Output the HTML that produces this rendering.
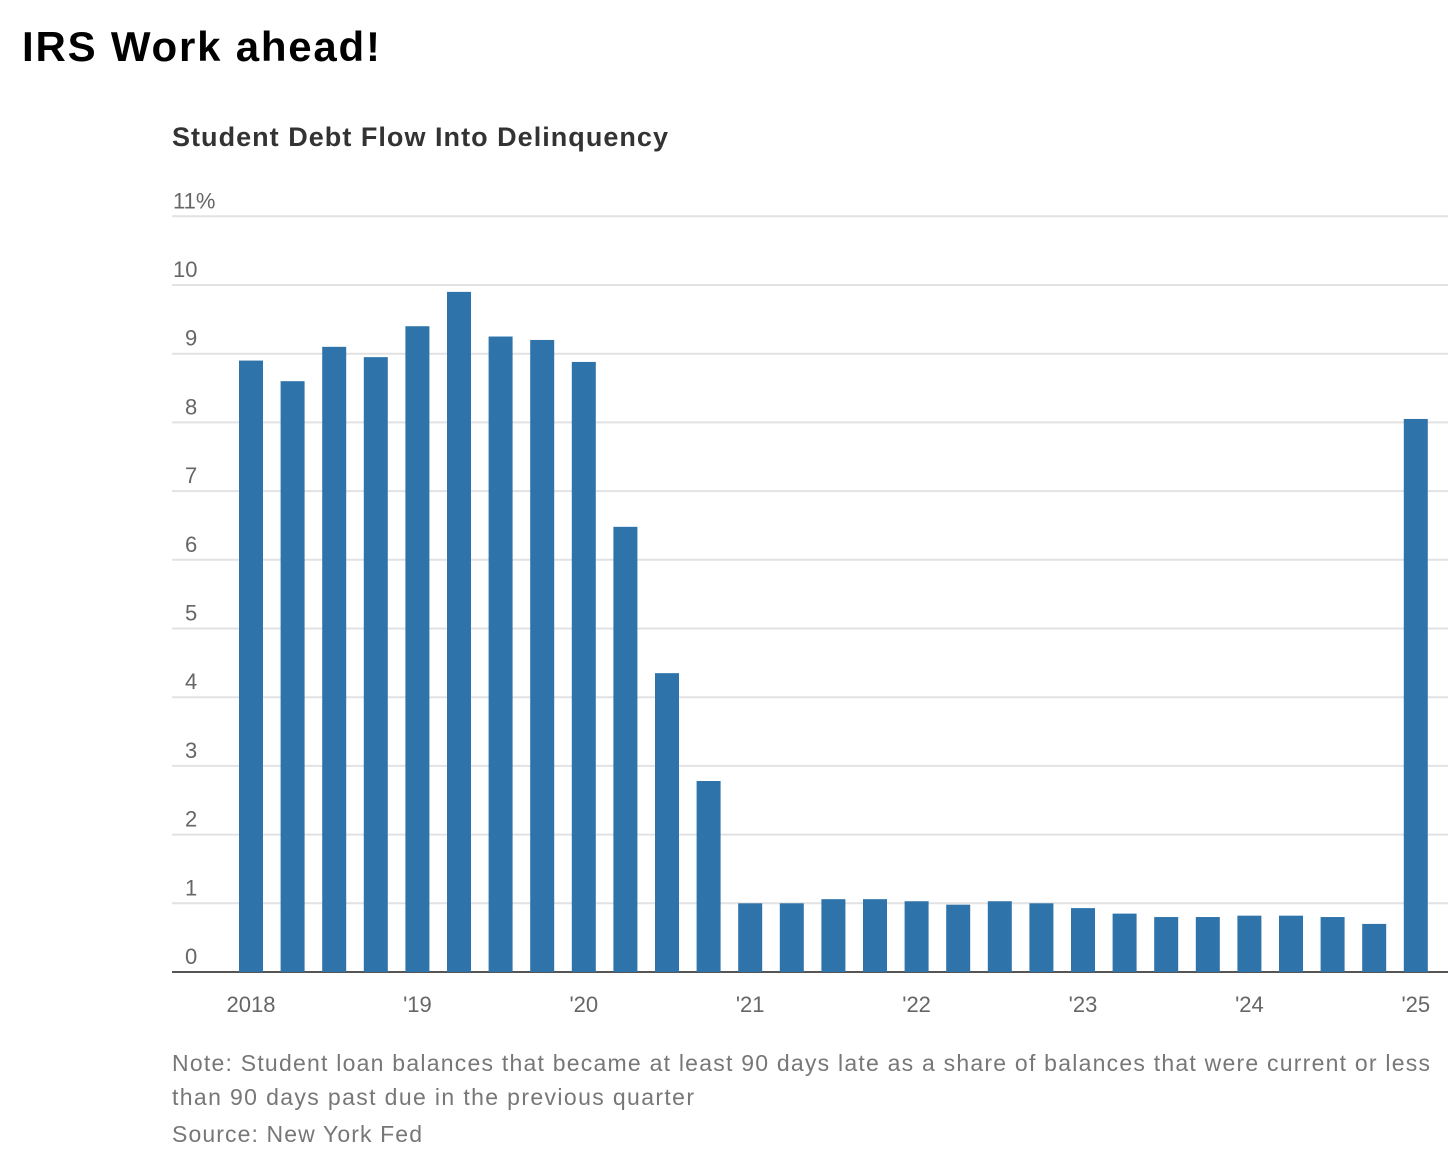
<!DOCTYPE html>
<html><head><meta charset="utf-8"><style>
body{margin:0;background:#fff;width:1456px;height:1165px;overflow:hidden;font-family:"Liberation Sans",sans-serif}
</style></head><body>
<svg width="1456" height="1165">
<text x="22" y="61" font-size="42" font-weight="bold" fill="#000" textLength="358">IRS Work ahead!</text>
<text x="172" y="146" font-size="27" font-weight="bold" fill="#333" textLength="496">Student Debt Flow Into Delinquency</text>
<g id="grid"></g><g id="bars"></g><g id="xt"></g>
<text x="172" y="1071" font-size="23" fill="#777" textLength="1258">Note: Student loan balances that became at least 90 days late as a share of balances that were current or less</text>
<text x="172" y="1105" font-size="23" fill="#777" textLength="522">than 90 days past due in the previous quarter</text>
<text x="172" y="1142" font-size="23" fill="#777" textLength="250">Source: New York Fed</text>
</svg>
<script>
const values=[8.9,8.6,9.1,8.95,9.4,9.9,9.25,9.2,8.88,6.48,4.35,2.78,1.0,1.0,1.06,1.06,1.03,0.98,1.03,1.0,0.93,0.85,0.8,0.8,0.82,0.82,0.8,0.7,8.05];
const yTicks=[0,1,2,3,4,5,6,7,8,9,10,11];
const yLabels=["0","1","2","3","4","5","6","7","8","9","10","11%"];
const xLabels=["2018","'19","'20","'21","'22","'23","'24","'25"];
const xLabelIdx=[0,4,8,12,16,20,24,28];
const NS="http://www.w3.org/2000/svg";
const y=v=>972-v*68.7, x=i=>251+i*41.6;
const g=document.getElementById('grid'),b=document.getElementById('bars'),xt=document.getElementById('xt');
yTicks.forEach((t,i)=>{
 const l=document.createElementNS(NS,'line');
 l.setAttribute('x1',172);l.setAttribute('x2',1448);l.setAttribute('y1',y(t));l.setAttribute('y2',y(t));
 l.setAttribute('stroke',t==0?'#555':'#e2e2e2');l.setAttribute('stroke-width',2);
 
 
 g.appendChild(l);
 const tx=document.createElementNS(NS,'text');
 tx.setAttribute('x',t==11?173:(t==10?173:185));tx.setAttribute('y',y(t)-8);tx.setAttribute('font-size',22);tx.setAttribute('fill','#666');
 tx.textContent=yLabels[i];
 
 
 g.appendChild(tx);
});
values.forEach((v,i)=>{
 const r=document.createElementNS(NS,'rect');
 r.setAttribute('x',x(i)-12);r.setAttribute('width',24);r.setAttribute('y',y(v));r.setAttribute('height',972-y(v));
 r.setAttribute('fill','#2e74ab');
 
 
 b.appendChild(r);
});
xLabels.forEach((s,k)=>{
 const tx=document.createElementNS(NS,'text');
 tx.setAttribute('x',x(xLabelIdx[k]));tx.setAttribute('y',1012);tx.setAttribute('font-size',22);tx.setAttribute('fill','#666');tx.setAttribute('text-anchor','middle');
 tx.textContent=s;
 
 
 xt.appendChild(tx);
});
</script>
</body></html>
